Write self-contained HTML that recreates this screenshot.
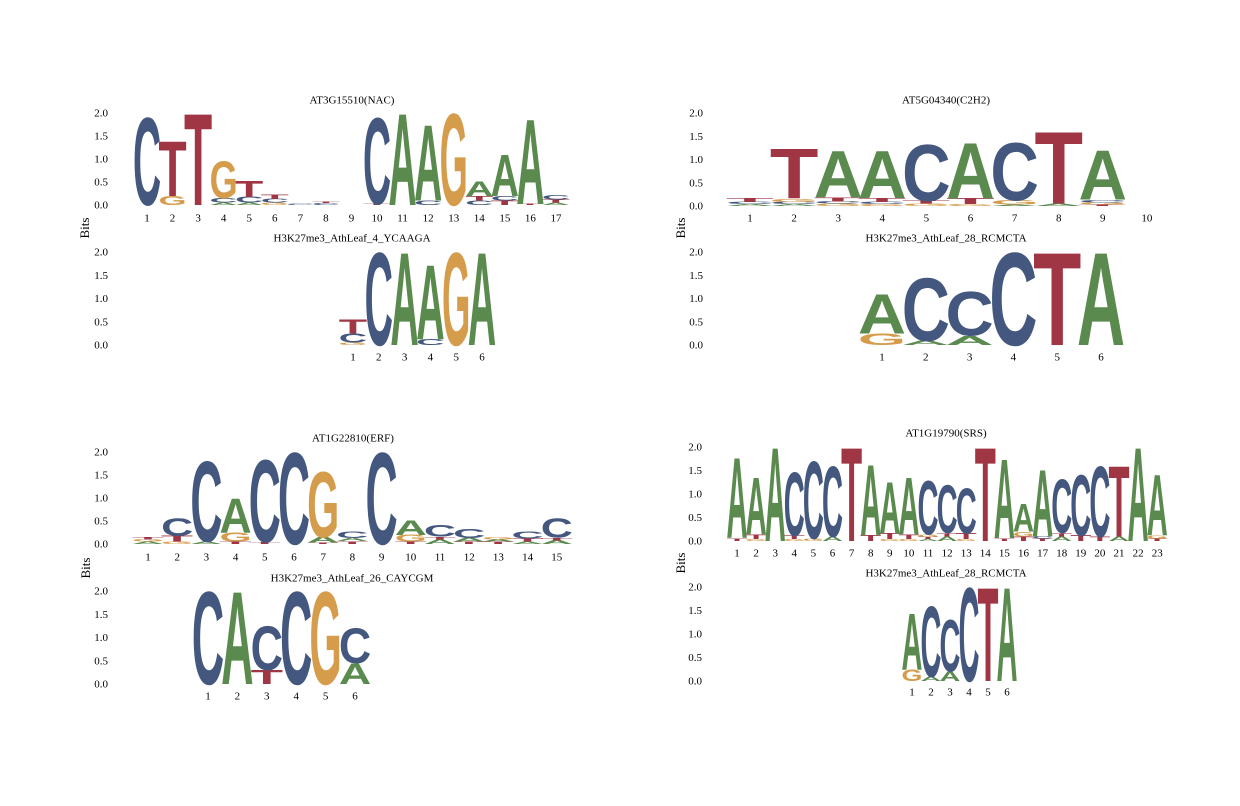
<!DOCTYPE html>
<html><head><meta charset="utf-8">
<style>
html,body{margin:0;padding:0;background:#fff;}
svg{display:block;}
.lbl{font-family:"Liberation Serif",serif;font-size:11px;fill:#000;}
.ttl{font-family:"Liberation Serif",serif;font-size:11px;fill:#000;}
.glyph{font-family:"Liberation Sans",sans-serif;font-weight:bold;}
</style></head>
<body>
<svg id="chart" width="1240" height="806" viewBox="0 0 1240 806" xmlns="http://www.w3.org/2000/svg"></svg>
<script>
// Column data: each column is a bottom-to-top stack of [letter, bits]
const tlUpperCols = [
 [["C",1.9]], [["G",0.2],["T",1.2]], [["T",2.0]], [["A",0.05],["C",0.1],["G",0.8]],
 [["A",0.05],["C",0.12],["T",0.35]], [["G",0.05],["C",0.08],["T",0.1]], [["C",0.02]],
 [["C",0.04],["T",0.03]], [], [["T",0.02],["C",1.88]], [["A",2.0]], [["C",0.1],["A",1.65]],
 [["G",2.0]], [["C",0.1],["T",0.1],["A",0.33]], [["T",0.1],["C",0.1],["A",0.9]],
 [["T",0.02],["A",1.85]], [["A",0.05],["T",0.07],["C",0.1]]
];
const tlLowerCols = [
 [["G",0.05],["C",0.2],["T",0.3]], [["C",2.0]], [["A",2.0]], [["C",0.12],["A",1.6]], [["G",2.0]], [["A",2.0]]
];
const trUpperCols = [
 [["A",0.04],["C",0.05],["T",0.08]], [["A",0.04],["C",0.05],["G",0.07],["T",1.07]],
 [["G",0.05],["C",0.05],["T",0.08],["A",1.0]], [["G",0.04],["C",0.05],["T",0.08],["A",1.02]],
 [["G",0.05],["T",0.07],["C",1.22]], [["G",0.04],["T",0.12],["A",1.2]],
 [["A",0.03],["G",0.1],["C",1.24]], [["A",0.05],["T",1.55]],
 [["T",0.03],["G",0.05],["C",0.06],["A",1.06]], []
];
const trLowerCols = [
 [["G",0.25],["A",0.85]], [["A",0.1],["C",1.35]], [["A",0.2],["C",0.95]], [["C",2.0]], [["T",2.0]], [["A",2.0]]
];
const blUpperCols = [
 [["A",0.05],["G",0.05],["T",0.06]], [["G",0.05],["T",0.12],["C",0.38]], [["A",0.05],["C",1.75]],
 [["T",0.05],["G",0.2],["A",0.75]], [["T",0.04],["C",1.8]], [["C",2.0]], [["T",0.03],["A",0.12],["G",1.42]],
 [["T",0.06],["A",0.07],["C",0.14]], [["C",2.0]], [["T",0.05],["G",0.15],["A",0.32]],
 [["A",0.1],["T",0.06],["C",0.25]], [["T",0.05],["A",0.08],["C",0.2]], [["T",0.05],["A",0.05],["G",0.05]],
 [["A",0.05],["T",0.07],["C",0.15]], [["A",0.08],["T",0.06],["C",0.42]]
];
const blLowerCols = [
 [["C",2.0]], [["A",2.0]], [["T",0.3],["C",0.95]], [["C",2.0]], [["G",2.0]], [["A",0.45],["C",0.75]]
];
const brUpperCols = [
 [["T",0.06],["A",1.72]], [["G",0.04],["T",0.1],["A",1.22]], [["A",2.0]], [["G",0.04],["T",0.08],["C",1.35]],
 [["G",0.05],["C",1.65]], [["A",0.1],["C",1.5]], [["T",2.0]], [["T",0.12],["A",1.5]],
 [["G",0.04],["T",0.12],["A",1.1]], [["G",0.04],["T",0.1],["A",1.22]], [["A",0.04],["T",0.05],["G",0.05],["C",1.15]],
 [["A",0.1],["T",0.07],["C",1.02]], [["G",0.04],["T",0.12],["C",0.97]], [["T",2.0]], [["T",0.06],["A",1.68]],
 [["T",0.1],["G",0.1],["A",0.6]], [["T",0.05],["C",0.05],["A",1.42]], [["A",0.1],["T",0.07],["C",1.15]],
 [["T",0.12],["C",1.3]], [["T",0.1],["C",1.5]], [["A",0.1],["T",1.5]], [["A",2.0]], [["T",0.05],["G",0.07],["A",1.3]]
];
const brLowerCols = [
 [["G",0.25],["A",1.2]], [["A",0.1],["C",1.5]], [["A",0.2],["C",1.1]], [["C",2.0]], [["T",2.0]], [["A",2.0]]
];
const yTicks = ["0.0","0.5","1.0","1.5","2.0"];
const titles = ["AT3G15510(NAC)","H3K27me3_AthLeaf_4_YCAAGA","AT5G04340(C2H2)","H3K27me3_AthLeaf_28_RCMCTA",
 "AT1G22810(ERF)","H3K27me3_AthLeaf_26_CAYCGM","AT1G19790(SRS)","H3K27me3_AthLeaf_28_RCMCTA"];

const NS="http://www.w3.org/2000/svg";
const svg=document.getElementById('chart');
const COLORS={A:"#5b8a4f",C:"#44587f",G:"#d59c4b",T:"#a03544"};
function mk(tag,attrs,parent){const e=document.createElementNS(NS,tag);for(const k in attrs)e.setAttribute(k,attrs[k]);(parent||svg).appendChild(e);return e;}

const panels=[
 {name:"nac",cols:tlUpperCols,y0:205,y2:113,x1:147,step:25.56,tx:108,title:titles[0],cx:352,ty:100,ly:218},
 {name:"ycaaga",cols:tlLowerCols,y0:345,y2:252,x1:353,step:25.8,tx:108,title:titles[1],cx:352,ty:238,ly:357},
 {name:"c2h2",cols:trUpperCols,y0:206,y2:113,x1:750,step:44.1,tx:703,title:titles[2],cx:946,ty:100,ly:218},
 {name:"rcmcta-top",cols:trLowerCols,y0:345,y2:252,x1:882,step:43.8,tx:703,title:titles[3],cx:946,ty:238,ly:357},
 {name:"erf",cols:blUpperCols,y0:544,y2:452,x1:148,step:29.2,tx:108,title:titles[4],cx:353,ty:438,ly:557},
 {name:"caycgm",cols:blLowerCols,y0:684,y2:591,x1:208,step:29.4,tx:108,title:titles[5],cx:352,ty:578,ly:696},
 {name:"srs",cols:brUpperCols,y0:541,y2:447,x1:737,step:19.1,tx:702,title:titles[6],cx:946,ty:433,ly:553},
 {name:"rcmcta-bottom",cols:brLowerCols,y0:681,y2:587,x1:912,step:19.0,tx:702,title:titles[7],cx:946,ty:573,ly:692}
];
const CAP=0.70;
panels.forEach(p=>{
  const g=mk('g',{});
  
  
  const yS=v=>p.y0-(p.y0-p.y2)*v/2;
  const xS=i=>p.x1+p.step*i;
  const t=mk('text',{x:p.cx,y:p.ty+3.5,'text-anchor':'middle',class:'ttl'},g);
  t.textContent=p.title;
  
  
  yTicks.forEach((lab,i)=>{
    const tt=mk('text',{x:p.tx,y:yS(i*0.5)+3.5,'text-anchor':'end',class:'lbl'},g);
    tt.textContent=lab;
    
    
  });
  const w=p.step*1.1;
  p.cols.forEach((col,i)=>{
    const xt=mk('text',{x:xS(i),y:p.ly+3.5,'text-anchor':'middle',class:'lbl'},g);
    xt.textContent=String(i+1);
    
    
    let acc=0;
    col.forEach(([L,h])=>{
      const yb=yS(acc), yt=yS(acc+h);
      acc+=h;
      const ph=yb-yt;
      if(ph<0.3)return;
      const fs=ph/CAP;
      const ch=mk('text',{x:(xS(i)-w/2).toFixed(2),y:yb,'font-size':fs.toFixed(2),textLength:w.toFixed(2),lengthAdjust:'spacingAndGlyphs',fill:COLORS[L],class:'glyph'},g);
      ch.textContent=L;
      
      
    });
  });
});
[[86,228],[87,568],[682,228],[682,563]].forEach(([x,y])=>{
  const b=mk('text',{x:x,y:y,transform:`rotate(-90 ${x} ${y})`,'text-anchor':'middle',class:'lbl','dominant-baseline':'middle'});
  b.style.fontSize='13px';
  b.textContent='Bits';
  
  
});
</script>
</body></html>
